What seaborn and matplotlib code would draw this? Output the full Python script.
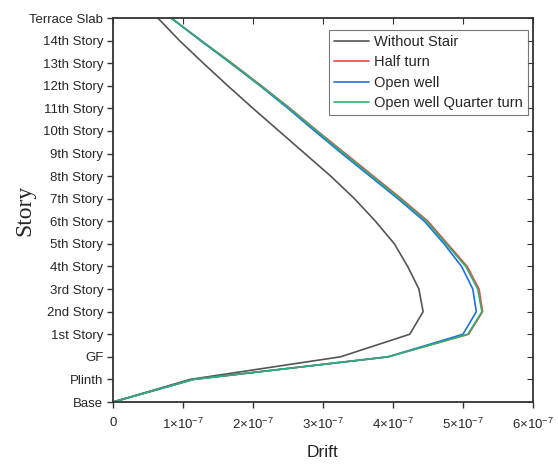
import numpy as np
import pandas as pd
import matplotlib
matplotlib.use("Agg")
import matplotlib.pyplot as plt
import seaborn as sns
from matplotlib.ticker import FixedLocator, FuncFormatter

stories = ["Base", "Plinth", "GF", "1st Story", "2nd Story", "3rd Story", "4th Story",
           "5th Story", "6th Story", "7th Story", "8th Story", "9th Story", "10th Story",
           "11th Story", "12th Story", "13th Story", "14th Story", "Terrace Slab"]

without_stair = [0, 1.10, 3.25, 4.24, 4.43, 4.37, 4.21, 4.02, 3.75, 3.45, 3.11, 2.74,
                 2.37, 2.00, 1.64, 1.29, 0.95, 0.64]
half_turn = [0, 1.15, 3.93, 5.08, 5.28, 5.23, 5.06, 4.78, 4.50, 4.12, 3.72, 3.32,
             2.92, 2.53, 2.12, 1.70, 1.26, 0.83]
open_well = [0, 1.15, 3.93, 5.00, 5.19, 5.14, 4.98, 4.73, 4.45, 4.07, 3.67, 3.27,
             2.88, 2.50, 2.10, 1.68, 1.25, 0.83]
open_well_qt = [0, 1.15, 3.93, 5.07, 5.27, 5.21, 5.04, 4.76, 4.48, 4.10, 3.70, 3.30,
                2.91, 2.52, 2.11, 1.69, 1.26, 0.83]
scale = 1e-7

series_names = ["Without Stair", "Half turn", "Open well", "Open well Quarter turn"]
series_vals = [without_stair, half_turn, open_well, open_well_qt]
colors = ["#555555", "#f04848", "#1f6fe0", "#2db070"]

rows = []
for name, vals in zip(series_names, series_vals):
    for i, v in enumerate(vals):
        rows.append({"Series": name, "Drift": v * scale, "Level": i})
df = pd.DataFrame(rows)

sns.set_style("ticks")
plt.rcParams["font.family"] = ["Liberation Sans", "DejaVu Sans"]
plt.rcParams["mathtext.fontset"] = "custom"
plt.rcParams["mathtext.rm"] = "Liberation Sans"
plt.rcParams["mathtext.it"] = "Liberation Sans"

fig = plt.figure(figsize=(5.58, 4.65), dpi=100)
ax = fig.add_axes([113 / 558, 1 - 402 / 465, (533 - 113) / 558, (402 - 18) / 465])

sns.lineplot(data=df, x="Drift", y="Level", hue="Series", hue_order=series_names,
             palette=dict(zip(series_names, colors)), orient="y", sort=False,
             linewidth=1.2, ax=ax)

ax.set_xlim(0, 6e-7)
ax.set_ylim(0, len(stories) - 1)
ax.yaxis.set_major_locator(FixedLocator(range(len(stories))))
ax.set_yticklabels(stories)
xt = [0, 1e-7, 2e-7, 3e-7, 4e-7, 5e-7, 6e-7]
ax.xaxis.set_major_locator(FixedLocator(xt))


def fmt(v, pos):
    k = int(round(v / 1e-7))
    if k == 0:
        return "0"
    return r"$%d{\times}10^{-7}$" % k


ax.xaxis.set_major_formatter(FuncFormatter(fmt))
ax.tick_params(axis="both", labelsize=9.5, length=4, width=1, color="#333333", pad=3)
ax.tick_params(axis="x", pad=7)

# inward ticks on top and right
axt = ax.secondary_xaxis("top")
axt.set_xticks(xt)
axt.tick_params(direction="in", length=4, labeltop=False, color="#333333")
axr = ax.secondary_yaxis("right")
axr.set_yticks(range(len(stories)))
axr.tick_params(direction="in", length=4, labelright=False, color="#333333")
for s in list(axt.spines.values()) + list(axr.spines.values()):
    s.set_visible(False)

for s in ax.spines.values():
    s.set_visible(True)
    s.set_color("#333333")
    s.set_linewidth(1.3)

ax.set_xlabel("Drift", fontsize=12.5, labelpad=9)
ax.set_ylabel("Story", fontsize=17, family=["Liberation Serif"], labelpad=-4)

leg = ax.legend(loc="upper right", bbox_to_anchor=(0.988, 0.97), fontsize=10.5,
                frameon=True, fancybox=False, edgecolor="#555555",
                handlelength=2.4, handletextpad=0.35, borderpad=0.35, labelspacing=0.45,
                borderaxespad=0)
leg.get_frame().set_linewidth(0.8)

fig.savefig("out.png", dpi=100)
